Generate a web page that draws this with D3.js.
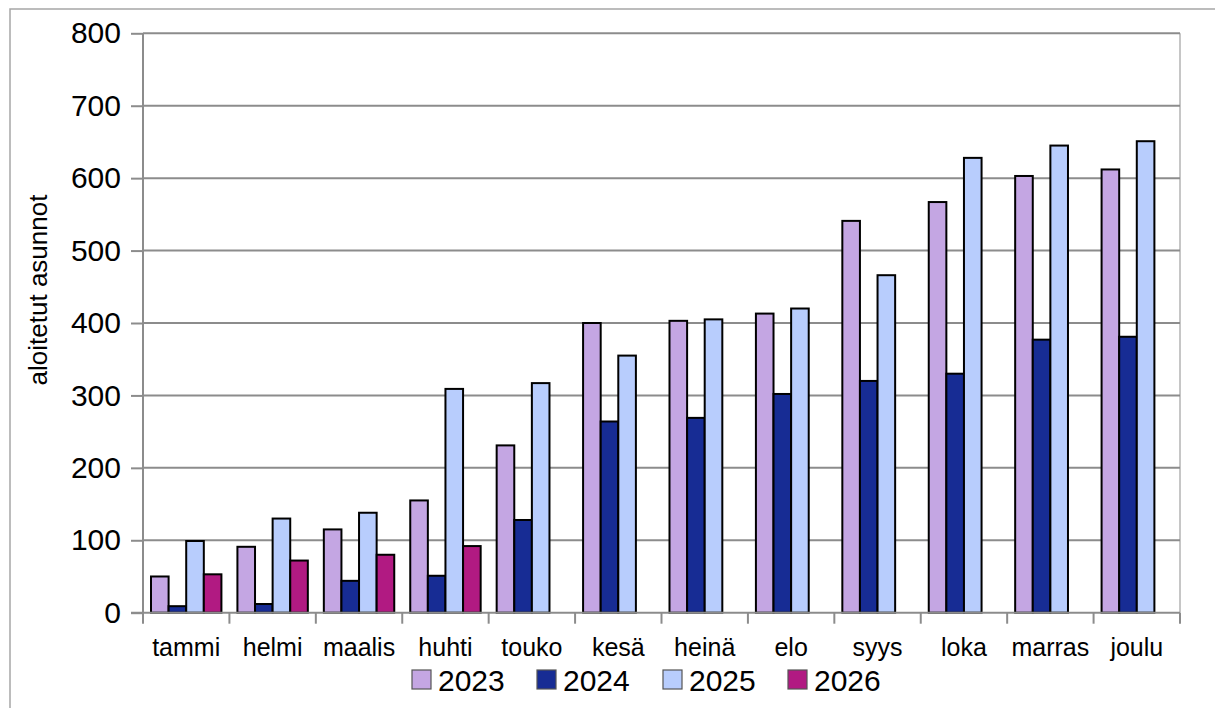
<!DOCTYPE html>
<html>
<head>
<meta charset="utf-8">
<script src="https://cdn.jsdelivr.net/npm/d3@7"></script>
<style>
  html, body { margin: 0; padding: 0; background: #fff; }
  svg { display: block; font-family: "Liberation Sans", Arial, sans-serif; }
</style>
</head>
<body>
<svg id="chart" width="1215" height="708"></svg>
<script>
const months = ["tammi","helmi","maalis","huhti","touko","kesä","heinä","elo","syys","loka","marras","joulu"];
const years = ["2023","2024","2025","2026"];
const s2023 = [50, 91, 115, 155, 231, 400, 403, 413, 541, 567, 603, 612];
const s2024 = [9, 12, 44, 51, 128, 264, 269, 302, 320, 330, 377, 381];
const s2025 = [99, 130, 138, 309, 317, 355, 405, 420, 466, 628, 645, 651];
const s2026 = [53, 72, 80, 92];
const yTicks = [0, 100, 200, 300, 400, 500, 600, 700, 800];
const colors = ["#C4A6E3", "#172C94", "#B8CDFD", "#B11A82"];
const yTitle = "aloitetut asunnot";

const series = [s2023, s2024, s2025, s2026];
const svg = d3.select("#chart");

const L = 143, R = 1180, T = 33.3, B = 612.7;

// outer frame
svg.append("rect").attr("x", 10).attr("y", 9).attr("width", 1230).attr("height", 730)
  .attr("fill", "none").attr("stroke", "#a6a6a6").attr("stroke-width", 1.5);

const y = d3.scaleLinear().domain([0, 800]).range([B, T]);
const x0 = d3.scaleBand().domain(months).range([L, R]).padding(0);
const x1 = d3.scaleBand().domain(years).range([8, x0.bandwidth() - 8]).padding(0);

// right border of plot
svg.append("line").attr("x1", R).attr("x2", R).attr("y1", T).attr("y2", B)
  .attr("stroke", "#b3b3b3").attr("stroke-width", 1.5);

// gridlines + y ticks
const yAxis = d3.axisLeft(y).tickValues(yTicks).tickSize(12).tickPadding(10);
const gy = svg.append("g").attr("transform", `translate(${L},0)`).call(yAxis);
gy.select(".domain").attr("stroke", "#8c8c8c").attr("stroke-width", 2).attr("d", `M0,${T}V${B}`);
gy.selectAll(".tick line").attr("stroke", "#8c8c8c").attr("stroke-width", 2);
gy.selectAll(".tick text").attr("font-size", 30).attr("fill", "#000")
  .attr("font-family", "'Liberation Sans', Arial, sans-serif");
svg.append("g").selectAll("line").data(yTicks.filter(d => d > 0)).join("line")
  .attr("x1", L).attr("x2", R).attr("y1", d => y(d)).attr("y2", d => y(d))
  .attr("stroke", "#8c8c8c").attr("stroke-width", 2);

// bars
const bars = svg.append("g");
series.forEach((vals, si) => {
  bars.selectAll(null).data(vals.map((v, i) => ({ m: months[i], v }))).join("rect")
    .attr("x", d => x0(d.m) + x1(years[si]))
    .attr("width", x1.bandwidth())
    .attr("y", d => y(d.v))
    .attr("height", d => y(0) - y(d.v))
    .attr("fill", colors[si])
    .attr("stroke", "#000").attr("stroke-width", 2);
});

// x axis
svg.append("line").attr("x1", L - 12).attr("x2", R).attr("y1", B).attr("y2", B)
  .attr("stroke", "#8c8c8c").attr("stroke-width", 2);
const bounds = months.map(m => x0(m)).concat([R]);
svg.append("g").selectAll("line").data(bounds).join("line")
  .attr("x1", d => d).attr("x2", d => d).attr("y1", B).attr("y2", B + 11)
  .attr("stroke", "#8c8c8c").attr("stroke-width", 2);
svg.append("g").selectAll("text").data(months).join("text")
  .attr("x", d => x0(d) + x0.bandwidth() / 2).attr("y", 656)
  .attr("text-anchor", "middle").attr("font-size", 25).attr("fill", "#000")
  .text(d => d);

// y title
svg.append("text").attr("transform", "translate(47,290) rotate(-90)")
  .attr("text-anchor", "middle").attr("font-size", 26).attr("fill", "#000")
  .text(yTitle);

// legend
const legX = [412, 537, 663, 788];
const lg = svg.append("g");
years.forEach((yr, i) => {
  lg.append("rect").attr("x", legX[i]).attr("y", 670).attr("width", 19).attr("height", 19)
    .attr("fill", colors[i]).attr("stroke", "#555").attr("stroke-width", 1.2);
  lg.append("text").attr("x", legX[i] + 26).attr("y", 690.5).attr("font-size", 30)
    .attr("fill", "#000").text(yr);
});
</script>
</body>
</html>
